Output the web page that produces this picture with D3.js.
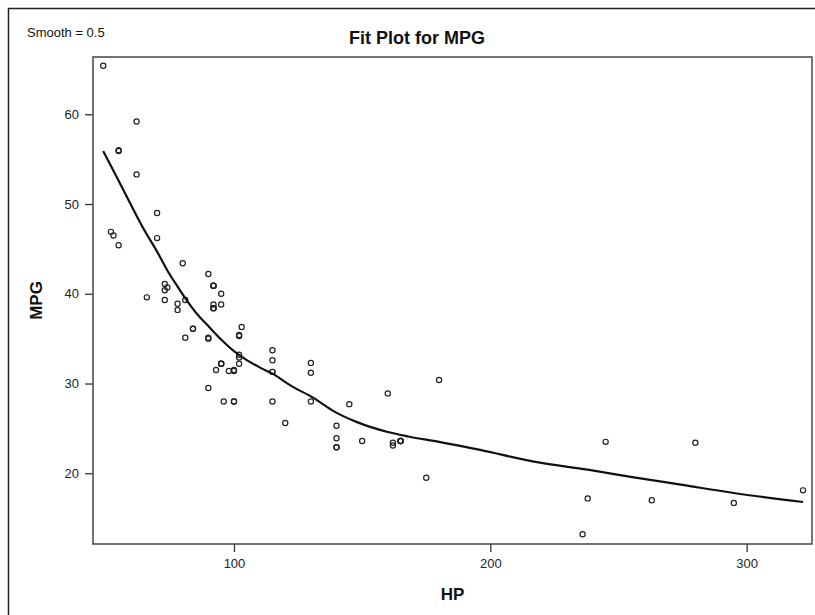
<!DOCTYPE html>
<html>
<head>
<meta charset="utf-8">
<script src="https://cdn.jsdelivr.net/npm/d3@7"></script>
<style>
  body { margin: 0; background: #fff; }
  svg { display: block; font-family: "Liberation Sans", Arial, sans-serif; }
  .tick text { font-size: 13px; fill: #222; }
  .tick line { stroke: #333; stroke-width: 1.3; }
</style>
</head>
<body>
<div id="chart"></div>
<script>
// horsepower and mileage of each car
const hp = [49, 55, 55, 70, 53, 70, 55, 62, 62, 80, 73, 92, 92, 73, 66, 73, 78, 92, 78, 90,
    92, 74, 95, 81, 95, 92, 92, 92, 52, 103, 84, 84, 102, 102, 81, 90, 90, 102, 102, 130,
    95, 95, 102, 95, 93, 100, 100, 98, 130, 115, 115, 115, 115, 180, 160, 130, 96, 115, 100, 100,
    145, 120, 140, 140, 150, 165, 165, 165, 165, 245, 280, 162, 162, 140, 140, 175, 322, 238, 263, 295,
    236, 90];
const mpg = [65.4, 56.0, 55.9, 49.0, 46.5, 46.2, 45.4, 59.2, 53.3, 43.4, 41.1, 40.9, 40.9, 40.4, 39.6, 39.3, 38.9, 38.8, 38.2, 42.2,
    40.9, 40.7, 40.0, 39.3, 38.8, 38.4, 38.4, 38.4, 46.9, 36.3, 36.1, 36.1, 35.4, 35.3, 35.1, 35.1, 35.0, 33.2, 32.9, 32.3,
    32.2, 32.2, 32.2, 32.2, 31.5, 31.5, 31.4, 31.4, 31.2, 33.7, 32.6, 31.3, 31.3, 30.4, 28.9, 28.0, 28.0, 28.0, 28.0, 28.0,
    27.7, 25.6, 25.3, 23.9, 23.6, 23.6, 23.6, 23.6, 23.6, 23.5, 23.4, 23.4, 23.1, 22.9, 22.9, 19.5, 18.1, 17.2, 17.0, 16.7,
    13.2, 29.5];

// loess fit (smooth = 0.5)
const fitHp = [49, 55, 60, 65, 70, 74, 78, 82, 86, 90, 95, 100, 105, 110, 115, 122, 131, 139, 148, 160,
    168, 180, 196, 217, 238, 256, 275, 295, 322];
const fitMpg = [55.9, 52.6, 49.8, 47.1, 44.7, 42.6, 40.8, 39.1, 37.6, 36.4, 34.9, 33.6, 32.6, 31.8, 31.1, 29.8, 28.4, 26.9, 25.7, 24.6,
    24.1, 23.5, 22.6, 21.3, 20.4, 19.55, 18.7, 17.8, 16.8];

const xTicks = [100, 200, 300];
const yTicks = [20, 30, 40, 50, 60];

const width = 815, height = 615;
const plot = {left: 93, top: 57, right: 812, bottom: 544};

const svg = d3.select('#chart').append('svg')
    .attr('width', width)
    .attr('height', height);

// outer frame of the graph
svg.append('rect')
    .attr('x', 8.5).attr('y', 8.5)
    .attr('width', 830).attr('height', 630)
    .attr('fill', 'none')
    .attr('stroke', '#222')
    .attr('stroke-width', 1.5);

const x = d3.scaleLinear().domain([45, 325.5]).range([plot.left, plot.right]);
const y = d3.scaleLinear().domain([12.12, 66.38]).range([plot.bottom, plot.top]);

// axes
svg.append('g')
    .attr('transform', 'translate(0,' + plot.bottom + ')')
    .call(d3.axisBottom(x).tickValues(xTicks).tickSize(8).tickPadding(7).tickSizeOuter(0))
    .call(g => g.select('.domain').remove());

svg.append('g')
    .attr('transform', 'translate(' + plot.left + ',0)')
    .call(d3.axisLeft(y).tickValues(yTicks).tickSize(8).tickPadding(6).tickSizeOuter(0))
    .call(g => g.select('.domain').remove());

svg.selectAll('.tick text').attr('font-family', null).attr('font-size', null);

// plot frame
svg.append('rect')
    .attr('x', plot.left).attr('y', plot.top)
    .attr('width', plot.right - plot.left)
    .attr('height', plot.bottom - plot.top)
    .attr('fill', 'none')
    .attr('stroke', '#444')
    .attr('stroke-width', 1.5);

// points
svg.append('g').selectAll('circle')
    .data(hp.map((h, i) => [h, mpg[i]]))
    .join('circle')
    .attr('cx', d => x(d[0]))
    .attr('cy', d => y(d[1]))
    .attr('r', 2.6)
    .attr('fill', 'none')
    .attr('stroke', '#222')
    .attr('stroke-width', 1.2);

// fit line
const line = d3.line()
    .x(d => x(d[0]))
    .y(d => y(d[1]))
    .curve(d3.curveMonotoneX);

svg.append('path')
    .datum(fitHp.map((h, i) => [h, fitMpg[i]]))
    .attr('d', line)
    .attr('fill', 'none')
    .attr('stroke', '#111')
    .attr('stroke-width', 2.2);

// texts
svg.append('text')
    .attr('x', 27).attr('y', 37)
    .attr('font-size', 13)
    .attr('fill', '#111')
    .text('Smooth = 0.5');

svg.append('text')
    .attr('x', 417).attr('y', 44)
    .attr('text-anchor', 'middle')
    .attr('font-size', 18)
    .attr('font-weight', 'bold')
    .attr('fill', '#111')
    .text('Fit Plot for MPG');

svg.append('text')
    .attr('x', (plot.left + plot.right) / 2).attr('y', 600)
    .attr('text-anchor', 'middle')
    .attr('font-size', 17)
    .attr('font-weight', 'bold')
    .attr('fill', '#111')
    .text('HP');

svg.append('text')
    .attr('transform', 'translate(42,' + (plot.top + plot.bottom) / 2 + ') rotate(-90)')
    .attr('text-anchor', 'middle')
    .attr('font-size', 17)
    .attr('font-weight', 'bold')
    .attr('fill', '#111')
    .text('MPG');
</script>
</body>
</html>
